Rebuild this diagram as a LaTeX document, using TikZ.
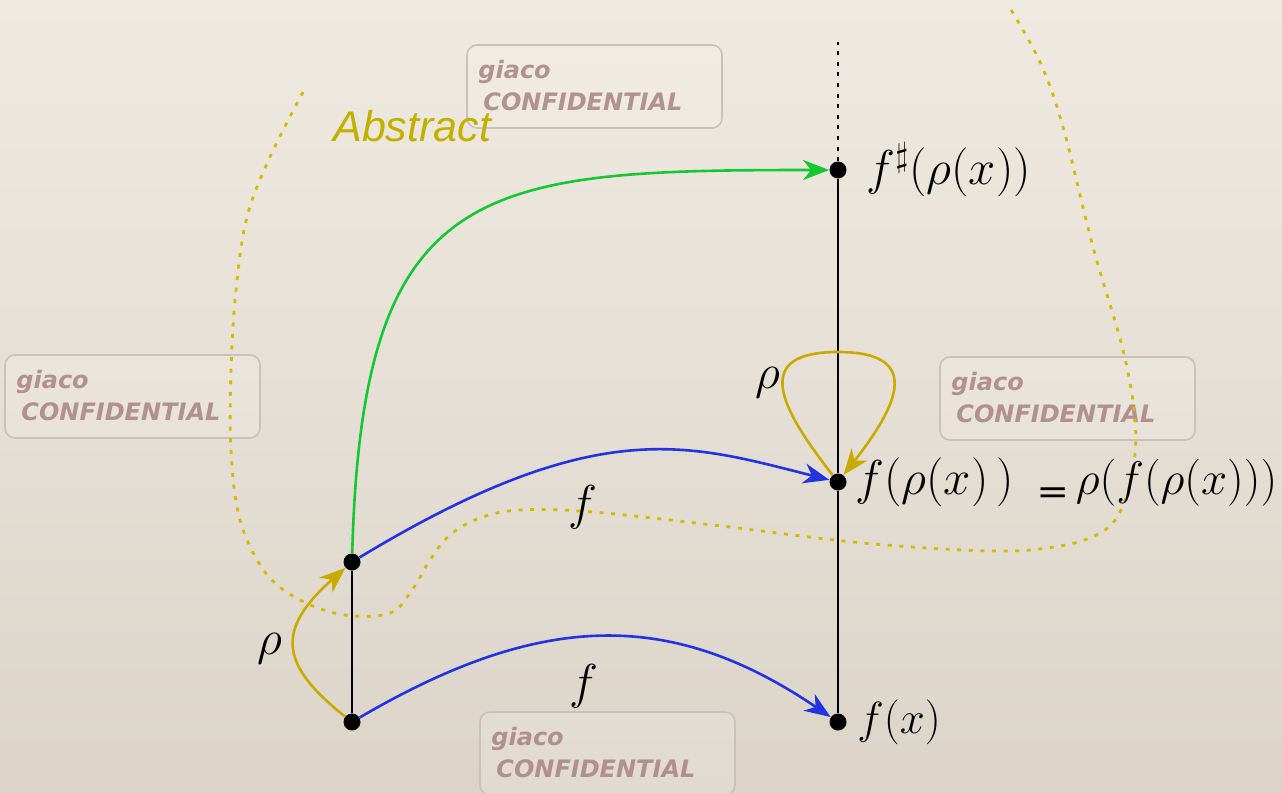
\RequirePackage{fix-cm}
\documentclass[tikz,border=0pt]{standalone}
\usepackage{fontspec}
\setsansfont{Liberation Sans}
\newfontfamily\wmfont{DejaVu Sans}
\usetikzlibrary{arrows.meta, calc}
\definecolor{bgtop}{HTML}{EFEAE1}
\definecolor{bgbot}{HTML}{DCD4C9}
\definecolor{cgreen}{HTML}{14C832}
\definecolor{cblue}{HTML}{2233E0}
\definecolor{crho}{HTML}{C9AA00}
\definecolor{cdots}{HTML}{D8B800}
\definecolor{cabs}{HTML}{C2B000}
\definecolor{wmtext}{HTML}{A88280}
\definecolor{wmbox}{HTML}{C9C1BA}

\begin{document}
\begin{tikzpicture}[x=0.5pt, y=-0.5pt,
    every node/.style={inner sep=0pt},
    dot/.style={circle, fill=black, minimum size=8.5pt},
    lab/.style={font=\fontsize{24.5}{29}\selectfont},
    smalllab/.style={font=\fontsize{22.5}{26}\selectfont},
    arr/.style={-{Stealth[length=13pt, width=10pt, inset=4pt]}, line width=1.3pt},
    axis/.style={line width=1.3pt, color=black},
    absline/.style={line width=1.4pt, color=cdots, dash pattern=on 2pt off 3.8pt},
    wmbox/.style={draw=wmbox, line width=0.8pt, rounded corners=5pt,
                  fill=white, fill opacity=0.15},
    wmtxt/.style={font=\wmfont\bfseries\itshape\fontsize{12}{14}\selectfont,
                  text=wmtext, text opacity=0.85, anchor=west},
]
\useasboundingbox (0,0) rectangle (1282,793);
\shade[top color=bgtop, bottom color=bgbot] (0,0) rectangle (1282,793);

% watermarks
\foreach \x/\y/\n in {467/45/a, 5/355/b, 940/357/c, 480/712/d}{
    \draw[wmbox] (\x,\y) rectangle ++(255,83);
    \node[wmtxt] (g\n) at (\x+11,\y+27) {giaco};
    \node[wmtxt] (c\n) at (\x+16,\y+57) {CONFIDENTIAL};
}

% border of the abstract region
\draw[absline] plot[smooth, tension=0.6] coordinates {
    (303,92) (270,157) (247,217) (236,290) (231,370) (231,450) (240,520)
    (265,572) (300,600) (345,615) (390,613) (412,590) (430,560) (450,535)
    (480,518) (520,510) (593,512) (713,525) (863,543) (993,551) (1060,546)
    (1100,533) (1120,512) (1133,470) (1135,420) (1123,350) (1093,247)
    (1063,127) (1040,62) (1008,5)};
\node[font=\sffamily\itshape\fontsize{21.5}{24}\selectfont, text=cabs, anchor=west]
    (abs) at (333,126) {Abstract};

% concrete side
\node[dot] (pLow) at (352,722) {};
\node[dot] (pUp) at (352,562) {};
\draw[axis] (pLow) -- (pUp);

% abstract chain
\node[dot] (qFx) at (838,722) {};
\node[dot] (qMid) at (838,482) {};
\node[dot] (qTop) at (838,170) {};
\coordinate (qEnd) at (838,42);
\coordinate (loopTop) at (838,352);
\draw[axis] (qFx) -- (qMid) -- (qTop);
\draw[axis, dash pattern=on 2pt off 3.3pt] (qTop) -- (qEnd);

\node[smalllab, anchor=west] (lFx) at (857,722) {$f(x)$};
\node[lab, anchor=west] (lMid) at (855,482)
    {$f(\rho(x)\kern4pt)$\hspace{12.5pt}\raisebox{-3.5pt}{\scalebox{1.1}[0.6]{\sffamily\bfseries\fontsize{22}{24}\selectfont =}}\hspace{4.5pt}{\fontsize{23.5}{28}\selectfont$\rho(f(\rho(x)))$}};
\node[lab, anchor=west] (lTop) at (866,170) {$f^\sharp(\rho(x))$};

% arrows
\draw[arr, cblue] (pLow) .. controls (540,612) and (670,608) .. (qFx);
\draw[arr, cblue] (pUp) .. controls (600,412) and (690,445) .. (qMid);
\draw[arr, cgreen] (pUp) .. controls (362,180) and (480,170) .. (qTop);
\draw[arr, crho] (pLow) .. controls (280,665) and (275,630) .. (pUp);
\draw[arr, crho] (qMid) to[out=128, in=180, looseness=1.8] (loopTop)
    to[out=0, in=52, looseness=1.8] (qMid);

\node[lab] (fA) at (583,507) {$f$};
\node[lab] (fB) at (584,686) {$f$};
\node[lab] (rhoA) at (270,649) {$\rho$};
\node[lab] (rhoB) at (768,383) {$\rho$};
\end{tikzpicture}
\end{document}
